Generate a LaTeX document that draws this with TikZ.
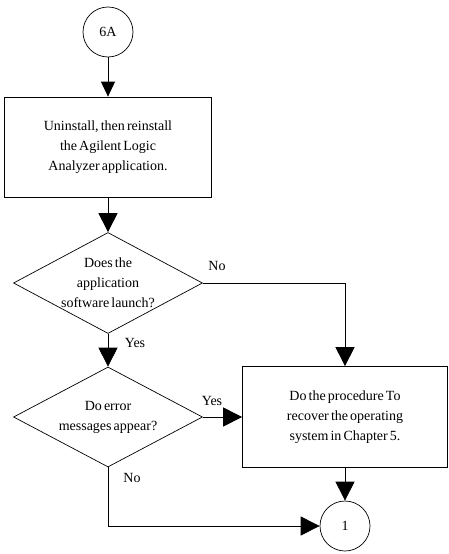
\documentclass[tikz,border=0pt]{standalone}
\usepackage{fontspec}
\setmainfont{Liberation Serif}[WordSpace=0.6]
\usetikzlibrary{shapes.geometric,arrows.meta}
\begin{document}
\begin{tikzpicture}[x=1pt,y=-1pt,
  font=\fontsize{14}{20}\selectfont,
  line width=0.7pt,
  procbox/.style={draw, rectangle, fill=white, inner sep=0pt, align=center},
  connector/.style={draw, circle, fill=white, minimum size=50pt, inner sep=0pt},
  decision/.style={draw, diamond, fill=white, inner sep=0pt},
  dtext/.style={inner sep=0pt, align=center},
  flow/.style={-{Triangle[length=19pt,width=19pt]}},
  flowsmall/.style={-{Triangle[length=15pt,width=14pt]}},
  lbl/.style={inner sep=0pt}]
\useasboundingbox (0,0) rectangle (448,554);

\node[connector] (c6a) at (108,32) {6A};
\node[procbox, minimum width=207pt, minimum height=100pt] (b1) at (108,147)
  {Uninstall, then reinstall\\the Agilent Logic\\Analyzer application.};
\node[decision, minimum width=189pt, minimum height=101pt] (d1) at (108,283) {};
\node[dtext] (d1t) at (d1.center) {Does the\\application\\software launch?};
\node[decision, minimum width=189pt, minimum height=100pt] (d2) at (108,417) {};
\node[dtext] (d2t) at (d2.center) {Do error\\messages appear?};
\node[procbox, minimum width=205pt, minimum height=101pt] (b2) at (345,417)
  {Do the procedure To\\recover the operating\\system in Chapter 5.};
\node[connector] (c1) at (345,526) {1};

\draw[flowsmall] (c6a.south) -- (b1.north);
\draw[flow] (b1.south) -- (d1.north);
\draw[flow] (d1.east) -| (b2.north);
\draw[flow] (d1.south) -- (d2.north);
\draw[flow] (d2.east) -- (b2.west);
\draw[flow] (b2.south) -- (c1.north);
\draw[flow] (d2.south) |- (c1.west);

\node[lbl] (l1) at (217,266) {No};
\node[lbl] (l2) at (135,343) {Yes};
\node[lbl] (l3) at (212,401) {Yes};
\node[lbl] (l4) at (132,478) {No};
\end{tikzpicture}
\end{document}
